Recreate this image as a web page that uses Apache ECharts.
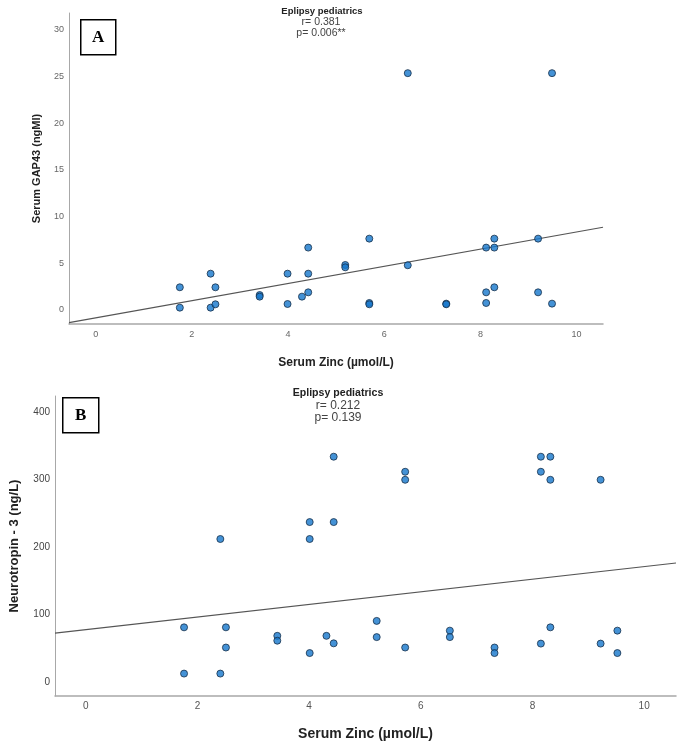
<!DOCTYPE html>
<html>
<head>
<meta charset="utf-8">
<script src="https://cdn.jsdelivr.net/npm/echarts@6/dist/echarts.min.js"></script>
<style>html,body{margin:0;padding:0;background:#fff}#c{width:677px;height:742px}</style>
</head>
<body>
<div id="c"></div>
<script>
// Panel A: Serum Zinc vs Serum GAP43
var zincA = [1.75,1.75,2.39,2.39,2.49,2.49,3.41,3.41,3.99,3.99,4.42,4.42,4.42,4.29,5.19,5.19,5.69,5.69,5.69,6.49,6.49,7.29,7.29,8.12,8.12,8.12,8.29,8.29,8.29,9.2,9.2,9.49,9.49];
var gapA  = [2.43,0.25,3.89,0.25,2.43,0.61,1.6,1.43,3.89,0.64,6.68,3.89,1.89,1.43,4.82,4.57,7.64,0.75,0.61,4.79,25.36,0.68,0.61,6.68,1.89,0.75,7.64,6.68,2.43,7.64,1.89,0.68,25.36];
var fitXA = [-0.555, 10.55];
var fitYA = [-1.36, 8.86];
// Panel B: Serum Zinc vs Neurotropin-3
var zincB = [2.41,4.01,4.01,4.44,4.44,5.72,5.72,8.15,8.32,8.15,8.32,9.22,1.76,1.76,2.41,2.51,2.51,3.43,3.43,4.01,4.31,4.44,5.21,5.21,5.72,6.52,6.52,7.32,7.32,8.15,8.32,9.22,9.52,9.52];
var ntB   = [211.7,236.8,211.7,333.6,236.8,311.3,299.4,333.6,333.6,311.3,299.4,299.4,80.9,12.4,12.4,80.9,51,68.3,61.1,42.8,68.3,57.2,90.4,66.4,51,76,66.4,51,42.8,56.8,80.9,56.8,76,42.8];
var fitXB = [-0.551, 10.57];
var fitYB = [72.2, 176.2];
var xTicks = [0,2,4,6,8,10];
var yTicksA = [0,5,10,15,20,25,30];
var yTicksB = [0,100,200,300,400];

function pairs(xs, ys){ return xs.map(function(x,i){return [x, ys[i]];}); }

var chart = echarts.init(document.getElementById('c'));
var ptStyle = {color:'#1577cc', borderColor:'#16304a', borderWidth:1};
var lineStyle = {color:'#555', width:1.2};
var F = 'Liberation Sans';
chart.setOption({
  animation:false,
  title:[
    {text:'Eplipsy pediatrics', left:317, top:1, textAlign:'center',
     textStyle:{fontFamily:F, fontSize:9.5, fontWeight:'bold', color:'#222'}},
    {text:'r= 0.381\np= 0.006**', left:316, top:12, textAlign:'center',
     textStyle:{fontFamily:F, fontSize:10.5, fontWeight:'normal', color:'#444', lineHeight:11}},
    {text:'Eplipsy pediatrics', left:333, top:383, textAlign:'center',
     textStyle:{fontFamily:F, fontSize:10.6, fontWeight:'bold', color:'#222'}},
    {text:'r= 0.212\np= 0.139', left:333, top:395, textAlign:'center',
     textStyle:{fontFamily:F, fontSize:12, fontWeight:'normal', color:'#444', lineHeight:12}}
  ],
  grid:[
    {left:69, top:13, width:534, height:311},
    {left:42, top:396, width:634, height:308}
  ],
  xAxis:[
    {type:'value', gridIndex:0, min:-0.555, max:10.55,
     splitLine:{show:false}, axisTick:{show:false},
     axisLine:{onZero:false, lineStyle:{color:'#a8a8a8', width:1.5}},
     axisLabel:{customValues:xTicks, color:'#666', fontSize:9, margin:6, fontFamily:F},
     name:'Serum Zinc (µmol/L)', nameLocation:'middle', nameGap:33,
     nameTextStyle:{fontFamily:F, fontSize:12, fontWeight:'bold', color:'#222'}},
    {type:'value', gridIndex:1, min:-0.551, max:10.57,
     splitLine:{show:false}, axisTick:{show:false},
     axisLine:{onZero:false, lineStyle:{color:'#a8a8a8', width:1.5}},
     axisLabel:{customValues:xTicks, color:'#555', fontSize:10, margin:5, fontFamily:F},
     name:'Serum Zinc (µmol/L)', nameLocation:'middle', nameGap:31,
     nameTextStyle:{fontFamily:F, fontSize:14, fontWeight:'bold', color:'#222'}}
  ],
  yAxis:[
    {type:'value', gridIndex:0, min:-1.5, max:31.8,
     splitLine:{show:false}, axisTick:{show:false},
     axisLine:{show:true, onZero:false, lineStyle:{color:'#a8a8a8', width:1}},
     axisLabel:{customValues:yTicksA, color:'#666', fontSize:9, margin:5, fontFamily:F},
     name:'Serum GAP43 (ngMl)', nameLocation:'middle', nameGap:27, nameRotate:90,
     nameTextStyle:{fontFamily:F, fontSize:11, fontWeight:'bold', color:'#222'}},
    {type:'value', gridIndex:1, min:-20.8, max:423.5,
     splitLine:{show:false}, axisTick:{show:false},
     axisLine:{show:true, onZero:false, lineStyle:{color:'#a8a8a8', width:1}},
     axisLabel:{customValues:yTicksB, color:'#444', fontSize:10, margin:5, fontFamily:F},
     name:'Neurotropin - 3 (ng/L)', nameLocation:'middle', nameGap:34, nameRotate:90,
     nameTextStyle:{fontFamily:F, fontSize:13, fontWeight:'bold', color:'#222'}}
  ],
  series:[
    {type:'line', xAxisIndex:0, yAxisIndex:0, data:pairs(fitXA, fitYA), showSymbol:false, lineStyle:lineStyle, z:1},
    {type:'scatter', xAxisIndex:0, yAxisIndex:0, data:pairs(zincA, gapA), symbolSize:7, itemStyle:ptStyle, z:2},
    {type:'line', xAxisIndex:1, yAxisIndex:1, data:pairs(fitXB, fitYB), showSymbol:false, lineStyle:lineStyle, z:1},
    {type:'scatter', xAxisIndex:1, yAxisIndex:1, data:pairs(zincB, ntB), symbolSize:7, itemStyle:ptStyle, z:2}
  ],
  graphic:[
    {type:'group', left:80, top:19, children:[
      {type:'rect', shape:{x:0,y:0,width:35,height:35}, style:{fill:'#fff', stroke:'#000', lineWidth:1.5}},
      {type:'text', x:17.5, y:17.5, style:{text:'A', font:'bold 17px "Liberation Serif"', fill:'#000', align:'center', verticalAlign:'middle'}}
    ]},
    {type:'group', left:62, top:397, children:[
      {type:'rect', shape:{x:0,y:0,width:36,height:35}, style:{fill:'#fff', stroke:'#000', lineWidth:1.5}},
      {type:'text', x:18, y:17.5, style:{text:'B', font:'bold 17px "Liberation Serif"', fill:'#000', align:'center', verticalAlign:'middle'}}
    ]}
  ]
});
</script>
</body>
</html>
